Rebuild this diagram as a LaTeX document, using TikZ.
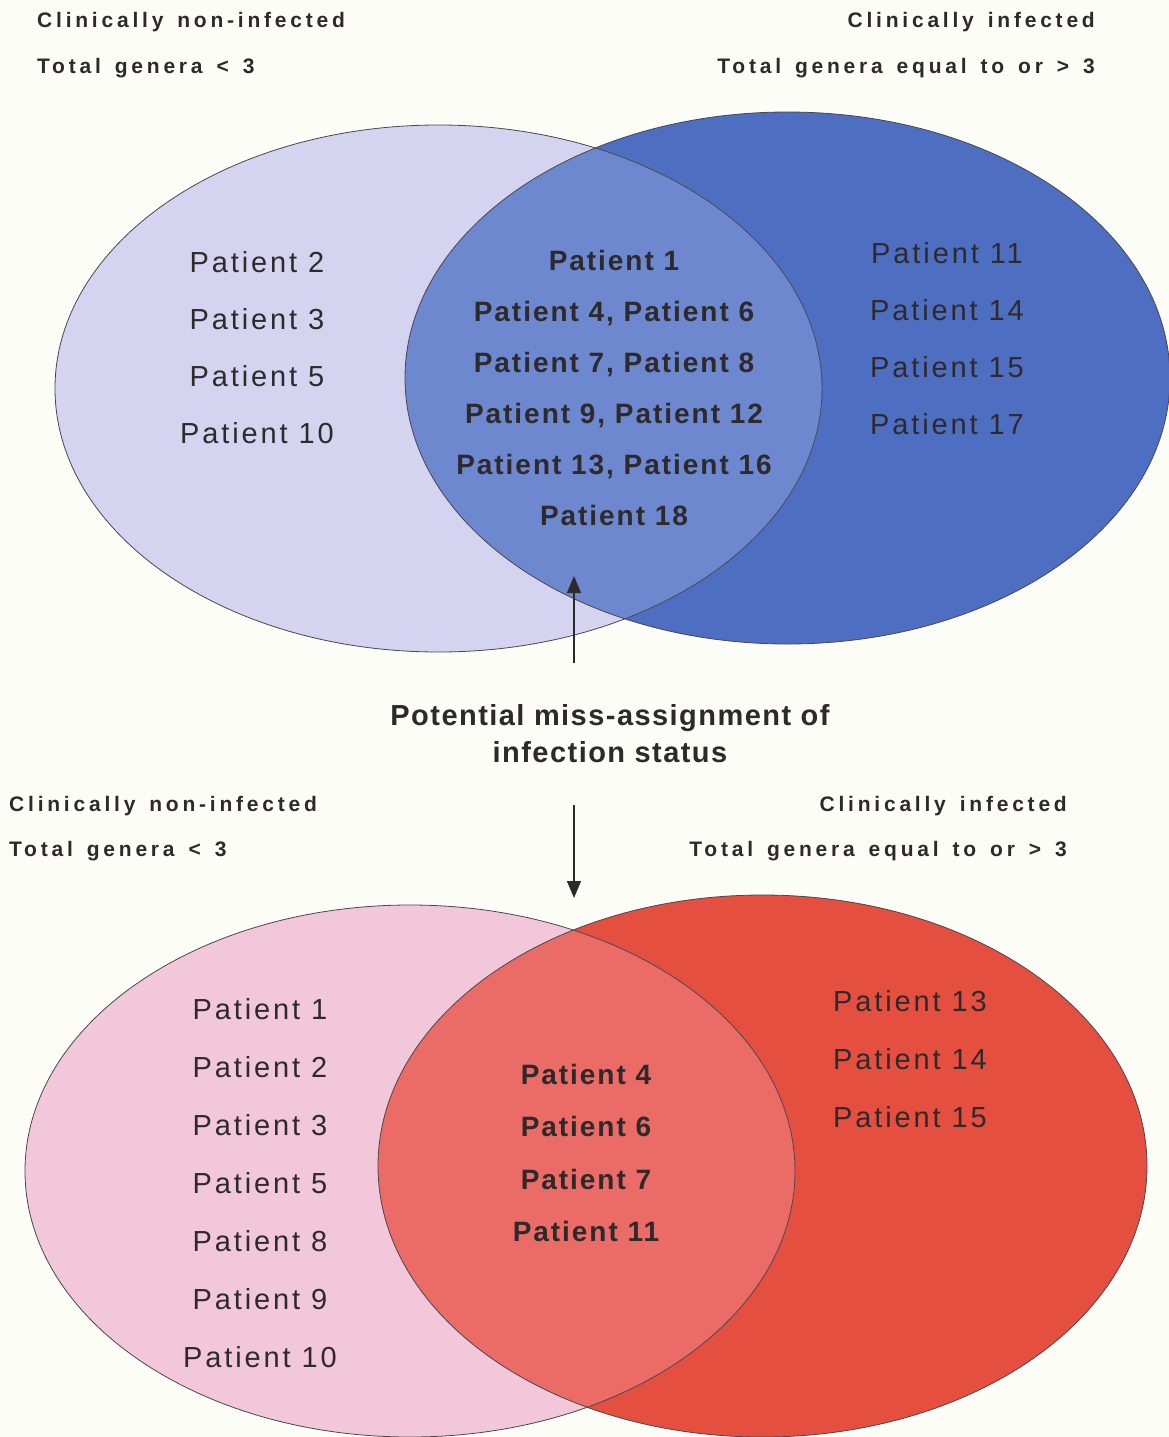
\documentclass[tikz,border=0pt]{standalone}
\usepackage{fontspec}
\setmainfont{Liberation Sans}
\newfontfamily\hdfont[LetterSpace=18,WordSpace=1.45]{Liberation Sans}
\newfontfamily\patfont[LetterSpace=10]{Liberation Sans}
\newfontfamily\ovlfont[LetterSpace=7]{Liberation Sans}
\newfontfamily\capfont[LetterSpace=5]{Liberation Sans}
\usetikzlibrary{arrows.meta}
\definecolor{paper}{HTML}{FDFDF8}
\definecolor{ink}{HTML}{2E2A2B}
\definecolor{rimc}{HTML}{4A4650}
\definecolor{blueL}{HTML}{D4D4F1}
\definecolor{blueM}{HTML}{6D88CF}
\definecolor{blueR}{HTML}{4E6EC2}
\definecolor{redL}{HTML}{F3C7DA}
\definecolor{redM}{HTML}{EB6B66}
\definecolor{redR}{HTML}{E44F3F}
\tikzset{
  hd/.style={font=\fontsize{21}{25}\hdfont\bfseries,text=ink,inner sep=0pt},
  pat/.style={font=\fontsize{29}{35}\patfont,text=ink,inner sep=0pt,anchor=base},
  ovl/.style={font=\fontsize{28}{34}\ovlfont\bfseries,text=ink,inner sep=0pt,anchor=base},
  capt/.style={font=\fontsize{29}{35}\capfont\bfseries,text=ink,inner sep=0pt,anchor=base},
  rim/.style={draw=rimc,line width=.8pt},
  arr/.style={draw=ink,line width=1.4pt,-{Triangle[length=17pt,width=14pt]}}
}
\begin{document}
\begin{tikzpicture}[x=1pt,y=-1pt]
\fill[paper](0,0)rectangle(1169,1437);
\useasboundingbox(0,0)rectangle(1169,1437);
% top diagram
\fill[blueR](787.5,378)ellipse[x radius=382.5,y radius=266];
\fill[blueL](438.5,388.5)ellipse[x radius=383.5,y radius=263.5];
\begin{scope}\clip(438.5,388.5)ellipse[x radius=383.5,y radius=263.5];
\fill[blueM](787.5,378)ellipse[x radius=382.5,y radius=266];\end{scope}
\draw[rim](438.5,388.5)ellipse[x radius=383.5,y radius=263.5];
\draw[rim](787.5,378)ellipse[x radius=382.5,y radius=266];
\node[hd,anchor=base west](nonA)at(37,28){Clinically non-infected};
\node[hd,anchor=base west](ltA)at(37,74){Total genera < 3};
\node[hd,anchor=base east](infA)at(1095,28){Clinically infected};
\node[hd,anchor=base east](geA)at(1095,74){Total genera equal to or > 3};
\foreach \t[count=\i from 0] in {2,3,5,10}\node[pat](al\i)at(257,{272+57*\i}){Patient \t};
\foreach \t[count=\i from 0] in {Patient 1,{Patient 4, Patient 6},{Patient 7, Patient 8},{Patient 9, Patient 12},{Patient 13, Patient 16},Patient 18}
  \node[ovl](am\i)at(614,{270+51*\i}){\t};
\foreach \t[count=\i from 0] in {11,14,15,17}\node[pat](ar\i)at(947,{263+57*\i}){Patient \t};
% caption and arrows
\node[capt](cap1)at(610,725){Potential miss-assignment of};
\node[capt](cap2)at(610,762){infection status};
\coordinate(upfoot)at(574,663);\coordinate(uptip)at(574,576);
\coordinate(dnfoot)at(574,805);\coordinate(dntip)at(574,898);
\draw[arr](upfoot)--(uptip);
\draw[arr](dnfoot)--(dntip);
% bottom diagram
\fill[redR](762.5,1166)ellipse[x radius=384.5,y radius=271];
\fill[redL](410,1171)ellipse[x radius=385,y radius=266];
\begin{scope}\clip(410,1171)ellipse[x radius=385,y radius=266];
\fill[redM](762.5,1166)ellipse[x radius=384.5,y radius=271];\end{scope}
\draw[rim](410,1171)ellipse[x radius=385,y radius=266];
\draw[rim](762.5,1166)ellipse[x radius=384.5,y radius=271];
\node[hd,anchor=base west](nonB)at(9,811){Clinically non-infected};
\node[hd,anchor=base west](ltB)at(9,856){Total genera < 3};
\node[hd,anchor=base east](infB)at(1067,811){Clinically infected};
\node[hd,anchor=base east](geB)at(1067,856){Total genera equal to or > 3};
\foreach \t[count=\i from 0] in {1,2,3,5,8,9,10}\node[pat](bl\i)at(260,{1019+58*\i}){Patient \t};
\foreach \t[count=\i from 0] in {4,6,7,11}\node[ovl](bm\i)at(586,{1084+52.5*\i}){Patient \t};
\foreach \t[count=\i from 0] in {13,14,15}\node[pat](br\i)at(910,{1011+58*\i}){Patient \t};
\end{tikzpicture}
\end{document}
